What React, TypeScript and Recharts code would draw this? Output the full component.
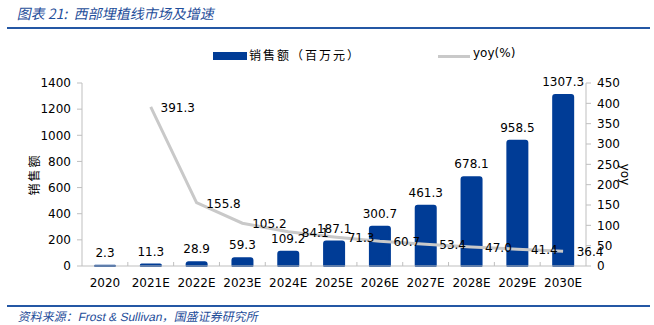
import React from 'react';
import {
  ComposedChart,
  Bar,
  Line,
  XAxis,
  YAxis,
  LabelList
} from 'recharts';

// data
const years = ['2020', '2021E', '2022E', '2023E', '2024E', '2025E', '2026E', '2027E', '2028E', '2029E', '2030E'];
const sales = [2.3, 11.3, 28.9, 59.3, 109.2, 187.1, 300.7, 461.3, 678.1, 958.5, 1307.3];
const yoy = [null, 391.3, 155.8, 105.2, 84.1, 71.3, 60.7, 53.4, 47.0, 41.4, 36.4];
const leftTicks = [0, 200, 400, 600, 800, 1000, 1200, 1400];
const rightTicks = [0, 50, 100, 150, 200, 250, 300, 350, 400, 450];

const data = years.map((year, i) => ({ year, sales: sales[i], yoy: yoy[i] }));

const W = 654;
const H = 325;
const LEFT_W = 82;
const RIGHT_W = 68;
const BAND = (W - LEFT_W - RIGHT_W) / years.length;

const BAR_COLOR = '#003C96';
const LINE_COLOR = '#C9C9C9';
const AXIS_COLOR = '#BFBFBF';
const BLUE_TEXT = '#1F4E9A';
const FONT = '"DejaVu Sans", Verdana, sans-serif';
const CJK = '"Noto Sans CJK SC", sans-serif';

const tickStyle = { fontSize: 12, fill: '#000', fontFamily: FONT };

// category label plus the small divider tick between bands
const YearTick = (props: any) => {
  const { x, y, payload, index } = props;
  return (
    <g>
      {index < years.length - 1 && (
        <line x1={x + BAND / 2} x2={x + BAND / 2} y1={y} y2={y - 4} stroke={AXIS_COLOR} />
      )}
      <text x={x} y={y + 21} textAnchor="middle" fontSize={12} fontFamily={FONT} fill="#000">
        {payload.value}
      </text>
    </g>
  );
};

const YoyLabel = (props: any) => {
  const { x, y, value } = props;
  if (value == null) return null;
  return (
    <text x={x + 27} y={y + 5} textAnchor="middle" fontSize={12} fontFamily={FONT} fill="#000">
      {Number(value).toFixed(1)}
    </text>
  );
};

export default function App() {
  return (
    <div style={{ position: 'absolute', left: 0, top: 0, width: W, height: H, background: '#fff' }}>
      {/* title */}
      <div
        style={{
          position: 'absolute', left: 16, top: 3, fontFamily: CJK, fontSize: 14, color: BLUE_TEXT,
          whiteSpace: 'nowrap', transform: 'skewX(-12deg)', transformOrigin: 'left bottom'
        }}
      >
        图表 21:&nbsp;&nbsp;西部埋植线市场及增速
      </div>
      <div style={{ position: 'absolute', left: 7, top: 27, width: 643, height: 2, background: '#2457A4' }} />

      {/* legend */}
      <div style={{ position: 'absolute', left: 213, top: 52, width: 34, height: 8, background: BAR_COLOR }} />
      <div style={{ position: 'absolute', left: 249, top: 46, fontFamily: CJK, fontSize: 12, letterSpacing: 2, whiteSpace: 'nowrap' }}>
        销售额（百万元）
      </div>
      <div style={{ position: 'absolute', left: 438, top: 55, width: 32, height: 3, background: LINE_COLOR }} />
      <div style={{ position: 'absolute', left: 473, top: 46, fontFamily: FONT, fontSize: 12, whiteSpace: 'nowrap' }}>
        yoy(%)
      </div>

      <div style={{ position: 'absolute', left: 0, top: 0 }}>
        <ComposedChart
          width={W}
          height={H}
          data={data}
          margin={{ top: 83, right: 0, bottom: 29, left: 0 }}
          barCategoryGap={0}
        >
          <XAxis
            dataKey="year"
            height={30}
            tick={<YearTick />}
            tickLine={false}
            tickSize={0}
            tickMargin={0}
            axisLine={{ stroke: AXIS_COLOR }}
            interval={0}
          />
          <YAxis
            yAxisId="left"
            width={LEFT_W}
            domain={[0, 1400]}
            ticks={leftTicks}
            tick={tickStyle}
            tickSize={5}
            tickLine={{ stroke: AXIS_COLOR }}
            axisLine={{ stroke: AXIS_COLOR }}
            tickMargin={6}
            label={{
              value: '销售额', angle: -90, position: 'insideLeft', dx: 30, dy: 0,
              style: { fontFamily: CJK, fontSize: 12, fill: '#000', textAnchor: 'middle', letterSpacing: 2 }
            }}
          />
          <YAxis
            yAxisId="right"
            orientation="right"
            width={RIGHT_W}
            domain={[0, 450]}
            ticks={rightTicks}
            tick={tickStyle}
            tickSize={5}
            tickLine={{ stroke: AXIS_COLOR }}
            axisLine={{ stroke: AXIS_COLOR }}
            tickMargin={6}
            label={{
              value: 'yoy', angle: 90, position: 'insideRight', dx: -24,
              style: { fontFamily: FONT, fontSize: 12, fill: '#000', textAnchor: 'middle' }
            }}
          />
          <Bar
            yAxisId="left"
            dataKey="sales"
            fill={BAR_COLOR}
            stroke={BAR_COLOR}
            strokeWidth={2}
            strokeLinejoin="round"
            barSize={20}
            radius={[2, 2, 0, 0]}
            isAnimationActive={false}
          >
            <LabelList dataKey="sales" position="top" offset={9} style={{ fontSize: 12, fontFamily: FONT, fill: '#000' }} />
          </Bar>
          <Line
            yAxisId="right"
            dataKey="yoy"
            stroke={LINE_COLOR}
            strokeWidth={3}
            dot={false}
            type="linear"
            isAnimationActive={false}
          >
            <LabelList dataKey="yoy" content={<YoyLabel />} />
          </Line>
        </ComposedChart>
      </div>

      {/* footer */}
      <div style={{ position: 'absolute', left: 7, top: 305, width: 643, height: 2, background: '#2457A4' }} />
      <div
        style={{
          position: 'absolute', left: 17, top: 307, fontFamily: CJK, fontSize: 12, color: BLUE_TEXT,
          whiteSpace: 'nowrap', transform: 'skewX(-12deg)', transformOrigin: 'left bottom'
        }}
      >
        资料来源：<span style={{ fontFamily: '"Liberation Sans", Arial, sans-serif' }}>Frost &amp; Sullivan</span>，国盛证券研究所
      </div>
    </div>
  );
}
